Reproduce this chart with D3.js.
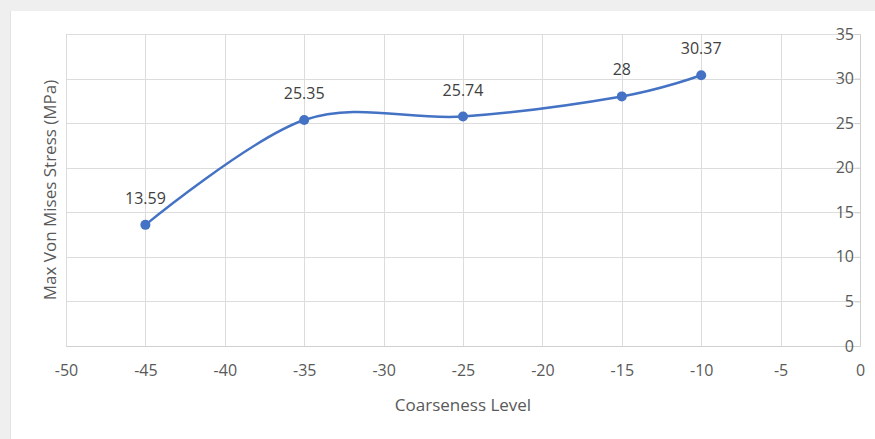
<!DOCTYPE html>
<html>
<head>
<meta charset="utf-8">
<script src="https://cdn.jsdelivr.net/npm/d3@7"></script>
<style>
  html, body { margin: 0; padding: 0; background: #efefef; }
  svg { display: block; }
  text { font-family: "Open Sans", "DejaVu Sans", sans-serif; }
</style>
</head>
<body>
<svg id="chart" width="875" height="439"></svg>
<script>
// Coarseness level vs. maximum von Mises stress
const coarseness = [-45, -35, -25, -15, -10];
const stress = [13.59, 25.35, 25.74, 28, 30.37];
const stressLabels = ["13.59", "25.35", "25.74", "28", "30.37"];
const xTicks = [-50, -45, -40, -35, -30, -25, -20, -15, -10, -5, 0];
const yTicks = [0, 5, 10, 15, 20, 25, 30, 35];

const W = 875, H = 439;
const svg = d3.select("#chart");

// card background
svg.append("rect").attr("x", 0).attr("y", 0).attr("width", W).attr("height", H).attr("fill", "#efefef");
svg.append("rect").attr("x", 10).attr("y", 11).attr("width", W - 10).attr("height", H - 11).attr("fill", "#ffffff");
svg.append("line").attr("x1", 10.5).attr("x2", 10.5).attr("y1", 11).attr("y2", H)
  .attr("stroke", "#e2e2e2").attr("stroke-width", 1);

const plot = { left: 66, right: 860, top: 34, bottom: 346 };

const x = d3.scaleLinear().domain([-50, 0]).range([plot.left, plot.right]);
const y = d3.scaleLinear().domain([0, 35]).range([plot.bottom, plot.top]);

const grid = svg.append("g");
// vertical gridlines
grid.selectAll("line.vx").data(xTicks).join("line")
  .attr("x1", d => Math.round(x(d)) + 0.5).attr("x2", d => Math.round(x(d)) + 0.5)
  .attr("y1", plot.top).attr("y2", plot.bottom)
  .attr("stroke", "#dcdcdc").attr("stroke-width", 1);
// horizontal gridlines
grid.selectAll("line.hy").data(yTicks).join("line")
  .attr("x1", plot.left).attr("x2", plot.right)
  .attr("y1", d => Math.round(y(d)) + 0.5).attr("y2", d => Math.round(y(d)) + 0.5)
  .attr("stroke", "#dcdcdc").attr("stroke-width", 1);

// plain hyphen-minus for negative tick values
const fmt = d => String(d);

// x axis along the bottom (labels only)
const xAxis = svg.append("g")
  .attr("transform", `translate(0,${plot.bottom})`)
  .call(d3.axisBottom(x).tickValues(xTicks).tickSize(0).tickPadding(19).tickFormat(fmt));
xAxis.select(".domain").attr("stroke", "#d0d0d0");
xAxis.selectAll("text").attr("fill", "#595959").style("font-size", "16px");

// y axis at x = 0 (right side), labels to its left
const yAxis = svg.append("g")
  .attr("transform", `translate(${x(0)},0)`)
  .call(d3.axisLeft(y).tickValues(yTicks).tickSize(5).tickPadding(1).tickFormat(fmt));
yAxis.select(".domain").attr("stroke", "#d0d0d0");
yAxis.selectAll(".tick line").attr("stroke", "#d0d0d0");
yAxis.selectAll("text").attr("fill", "#595959").style("font-size", "16px");

// smoothed series line
const line = d3.line()
  .x((d, i) => x(coarseness[i]))
  .y(d => y(d))
  .curve(d3.curveCardinal.tension(0));

svg.append("path")
  .datum(stress)
  .attr("d", line)
  .attr("fill", "none")
  .attr("stroke", "#4472c4")
  .attr("stroke-width", 2.5)
  .attr("stroke-linecap", "round");

svg.selectAll("circle.pt").data(stress).join("circle")
  .attr("cx", (d, i) => x(coarseness[i]))
  .attr("cy", d => y(d))
  .attr("r", 5)
  .attr("fill", "#4472c4");

// data labels
svg.selectAll("text.lbl").data(stress).join("text")
  .attr("x", (d, i) => x(coarseness[i]))
  .attr("y", d => y(d) - 21)
  .attr("text-anchor", "middle")
  .attr("fill", "#404040")
  .style("font-size", "16px")
  .text((d, i) => stressLabels[i]);

// axis titles
svg.append("text")
  .attr("x", (plot.left + plot.right) / 2)
  .attr("y", 411)
  .attr("text-anchor", "middle")
  .attr("fill", "#595959")
  .style("font-size", "17px")
  .text("Coarseness Level");

svg.append("text")
  .attr("transform", `translate(56,${(plot.top + plot.bottom) / 2}) rotate(-90)`)
  .attr("text-anchor", "middle")
  .attr("fill", "#595959")
  .style("font-size", "17px")
  .text("Max Von Mises Stress (MPa)");
</script>
</body>
</html>
